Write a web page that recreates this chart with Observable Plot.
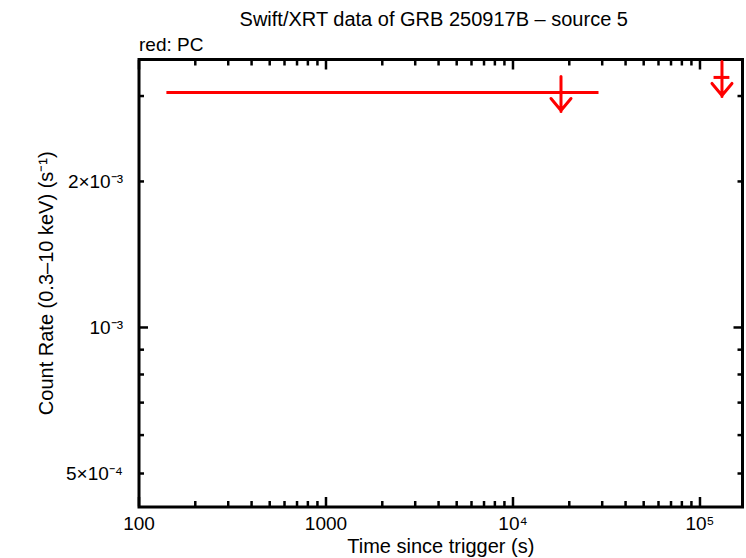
<!DOCTYPE html>
<html>
<head>
<meta charset="utf-8">
<script src="https://cdn.jsdelivr.net/npm/d3@7"></script>
<script src="https://cdn.jsdelivr.net/npm/@observablehq/plot@0.6"></script>
<style>
  html, body { margin: 0; padding: 0; background: #fff; }
  svg { display: block; }
</style>
</head>
<body>
<div id="chart"></div>
<script>
// ---- data ----
const limTime   = [18060, 131100];      // s since trigger (upper-limit points)
const limTimeLo = [141, 118900];
const limTimeHi = [28840, 144500];
const limRate   = [3.051e-3, 3.277e-3];  // count rate upper limits (s^-1)

const xMajor  = [100, 1000, 1e4, 1e5];
const xLabels = ["100", "1000", "10\u2074", "10\u2075"];
const xMinor  = [200,300,400,500,600,700,800,900,
                 2000,3000,4000,5000,6000,7000,8000,9000,
                 20000,30000,40000,50000,60000,70000,80000,90000];
const yMajor  = [1e-3];
const yMinor  = [5e-4, 6e-4, 7e-4, 8e-4, 9e-4, 2e-3, 3e-3];
const yLabelVals = [5e-4, 1e-3, 2e-3];
const yLabels    = ["5\u00d710\u207b\u2074", "10\u207b\u00b3", "2\u00d710\u207b\u00b3"];

const title    = "Swift/XRT data of GRB 250917B \u2013 source 5";
const subtitle = "red: PC";
const xTitle   = "Time since trigger (s)";
const yTitle   = "Count Rate (0.3\u201310 keV) (s\u207b\u00b9)";

const points = limTime.map((t, i) => ({t, lo: limTimeLo[i], hi: limTimeHi[i], rate: limRate[i]}));

// upper-limit arrow glyph (shaft + head), drawn at the data point
const ulShape = {
  draw(ctx) {
    ctx.moveTo(0, -16); ctx.lineTo(0, 19);
    ctx.moveTo(-10, 6); ctx.lineTo(0, 18); ctx.lineTo(10, 6);
  }
};

const FONT = "'Liberation Sans', Arial, Helvetica, sans-serif";
const blank = () => "";
const tk = (data, anchor, size) =>
  (anchor === "top" || anchor === "bottom" ? Plot.axisX : Plot.axisY)(data,
    {anchor, tickSize: size, tickFormat: blank, strokeWidth: 2.5, label: null});

const chart = Plot.plot({
  width: 746,
  height: 558,
  marginLeft: 138.5,
  marginRight: 4,
  marginTop: 59,
  marginBottom: 51.5,
  style: {fontFamily: FONT, background: "white", color: "black"},
  x: {type: "log", domain: [100, 168800]},
  y: {type: "log", domain: [4.265e-4, 3.568e-3]},
  marks: [
    // inner ticks on all four sides
    tk(xMajor, "bottom", -9.5), tk(xMinor, "bottom", -5.5),
    tk(xMajor, "top", -9.5),    tk(xMinor, "top", -5.5),
    tk(yMajor, "left", -9.5),   tk(yMinor, "left", -5.5),
    tk(yMajor, "right", -9.5),  tk(yMinor, "right", -5.5),
    // tick labels
    Plot.axisX(xMajor, {anchor: "bottom", tickSize: 0, tickPadding: 9, fontSize: 19,
      tickFormat: d => xLabels[xMajor.indexOf(d)], label: null}),
    Plot.axisY(yLabelVals, {anchor: "left", tickSize: 0, tickPadding: 16, fontSize: 19,
      tickFormat: d => yLabels[yLabelVals.indexOf(d)], label: null}),
    Plot.frame({stroke: "black", strokeWidth: 3}),
    // data: x error bars + upper-limit arrows
    Plot.ruleY(points, {y: "rate", x1: "lo", x2: "hi", stroke: "red", strokeWidth: 3}),
    Plot.vector(points, {x: "t", y: "rate", length: 1, anchor: "start", shape: ulShape,
      stroke: "red", strokeWidth: 3}),
    // titles
    Plot.text([title], {frameAnchor: "top", text: d => d, dy: -40, dx: -7, fontSize: 20, lineAnchor: "middle"}),
    Plot.text([subtitle], {frameAnchor: "top-left", text: d => d, dy: -15, textAnchor: "start", fontSize: 19, lineAnchor: "middle"}),
    Plot.text([xTitle], {frameAnchor: "bottom", text: d => d, dy: 40, fontSize: 20, lineAnchor: "middle"}),
    Plot.text([yTitle], {frameAnchor: "left", text: d => d, dx: -92, rotate: -90, fontSize: 20,
      textAnchor: "middle", lineAnchor: "middle"})
  ]
});
document.getElementById("chart").appendChild(chart);
</script>
</body>
</html>
